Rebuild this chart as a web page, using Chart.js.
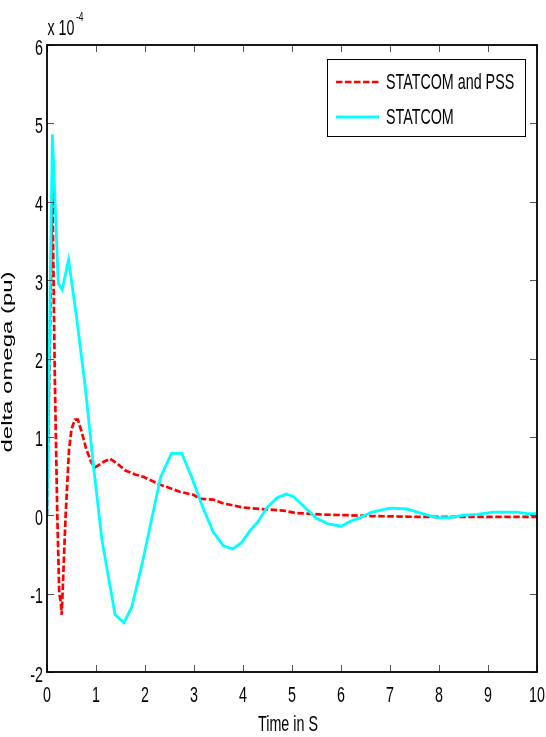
<!DOCTYPE html>
<html>
<head>
<meta charset="utf-8">
<script src="https://cdn.jsdelivr.net/npm/chart.js@4.4.1/dist/chart.umd.min.js"></script>
<style>
  html, body { margin: 0; padding: 0; background: #fff; }
  canvas { display: block; }
</style>
</head>
<body>
<canvas id="c" width="546" height="737"></canvas>
<script>
// ---- data (values in units of 1e-4 pu) ----
const seriesNames = ['STATCOM and PSS', 'STATCOM'];

const pssTime = [0, 0.11, 0.16, 0.21, 0.25, 0.28, 0.30, 0.33, 0.38, 0.45, 0.50, 0.57, 0.63, 0.70, 0.80, 0.90, 0.98, 1.15, 1.29, 1.45, 1.60, 1.80, 1.97, 2.31, 2.71, 2.99, 3.12, 3.39, 3.60, 4.00, 4.35, 4.82, 5.06, 5.57, 6.18, 6.63, 7.50, 8.50, 10.0];
const pssVals = [0, 4.20, 1.73, 0.00, -1.00, -1.10, -1.27, -0.80, 0.00, 0.84, 1.10, 1.22, 1.22, 1.08, 0.85, 0.68, 0.61, 0.68, 0.72, 0.65, 0.57, 0.52, 0.49, 0.39, 0.30, 0.26, 0.21, 0.20, 0.15, 0.10, 0.08, 0.06, 0.03, 0.01, 0.00, -0.01, -0.02, -0.02, -0.02];

const statTime = [0, 0.11, 0.23, 0.31, 0.44, 0.60, 0.78, 0.95, 1.12, 1.39, 1.57, 1.73, 1.93, 2.32, 2.54, 2.75, 2.95, 3.18, 3.39, 3.60, 3.79, 3.97, 4.14, 4.31, 4.48, 4.69, 4.88, 5.03, 5.30, 5.50, 5.74, 6.01, 6.18, 6.39, 6.63, 7.00, 7.34, 7.61, 7.95, 8.22, 8.50, 8.77, 9.11, 9.59, 9.79, 10.0];
const statVals = [0, 4.86, 2.96, 2.88, 3.26, 2.54, 1.64, 0.62, -0.31, -1.27, -1.37, -1.17, -0.65, 0.49, 0.79, 0.79, 0.49, 0.10, -0.21, -0.39, -0.43, -0.35, -0.20, -0.08, 0.09, 0.22, 0.27, 0.24, 0.08, -0.04, -0.11, -0.14, -0.08, -0.03, 0.04, 0.09, 0.08, 0.03, -0.03, -0.03, 0.00, 0.01, 0.04, 0.04, 0.02, 0.02];

const xTickValues = [0, 1, 2, 3, 4, 5, 6, 7, 8, 9, 10];
const xTickLabels = ['0', '1', '2', '3', '4', '5', '6', '7', '8', '9', '10'];
const yTickValues = [-2, -1, 0, 1, 2, 3, 4, 5, 6];
const yTickLabels = ['-2', '-1', '0', '1', '2', '3', '4', '5', '6'];

const xTitle = 'Time in S';
const yTitle = 'delta omega (pu)';
const exponentBase = 'x 10';
const exponentPower = '-4';

const colPss = '#ff0000';
const colStat = '#00ffff';

const FONT = '"Liberation Sans", Arial, Helvetica, sans-serif';

function txt(ctx, s, x, y, size, sx, align) {
  ctx.save();
  ctx.translate(x, y);
  ctx.scale(sx, 1);
  ctx.font = size + 'px ' + FONT;
  ctx.textAlign = align;
  ctx.textBaseline = 'alphabetic';
  ctx.fillStyle = '#000';
  ctx.fillText(s, 0, 0);
  ctx.restore();
}

const decor = {
  id: 'matlabDecor',
  afterDraw(chart) {
    const ctx = chart.ctx, a = chart.chartArea;
    const xs = chart.scales.x, ys = chart.scales.y;
    ctx.save();
    // ticks (inside)
    ctx.strokeStyle = '#555';
    ctx.lineWidth = 1;
    ctx.beginPath();
    xTickValues.forEach(v => {
      const p = Math.round(xs.getPixelForValue(v)) + 0.5;
      ctx.moveTo(p, a.bottom); ctx.lineTo(p, a.bottom - 7);
      ctx.moveTo(p, a.top); ctx.lineTo(p, a.top + 7);
    });
    yTickValues.forEach(v => {
      const p = Math.round(ys.getPixelForValue(v)) + 0.5;
      ctx.moveTo(a.left, p); ctx.lineTo(a.left + 7, p);
      ctx.moveTo(a.right, p); ctx.lineTo(a.right - 7, p);
    });
    ctx.stroke();
    // box
    ctx.strokeStyle = '#000';
    ctx.lineWidth = 1.8;
    ctx.strokeRect(a.left, a.top, a.right - a.left, a.bottom - a.top);

    // tick labels
    xTickValues.forEach((v, i) => {
      txt(ctx, xTickLabels[i], xs.getPixelForValue(v), 701.5, 22, 0.65, 'center');
    });
    yTickValues.forEach((v, i) => {
      txt(ctx, yTickLabels[i], 43, ys.getPixelForValue(v) + 9.5, 22, 0.65, 'right');
    });
    // axis titles
    txt(ctx, xTitle, 288, 731, 22, 0.65, 'center');
    ctx.save();
    ctx.translate(12, 362);
    ctx.rotate(-Math.PI / 2);
    ctx.scale(1.71, 1);
    ctx.font = '14px ' + FONT;
    ctx.textAlign = 'center';
    ctx.textBaseline = 'alphabetic';
    ctx.fillStyle = '#000';
    ctx.fillText(yTitle, 0, 0);
    ctx.restore();
    // exponent
    txt(ctx, exponentBase, 47.5, 35, 22, 0.65, 'left');
    txt(ctx, exponentPower, 76, 20.5, 13, 0.65, 'left');

    // legend
    ctx.fillStyle = '#fff';
    ctx.fillRect(327, 59, 198, 77);
    ctx.strokeStyle = '#000';
    ctx.lineWidth = 1;
    ctx.strokeRect(327.5, 59.5, 198, 77);
    const ds = chart.data.datasets;
    const rows = [82, 117];
    ds.forEach((d, i) => {
      ctx.save();
      ctx.strokeStyle = d.borderColor;
      ctx.lineWidth = d.borderWidth;
      ctx.setLineDash(d.borderDash || []);
      ctx.beginPath();
      ctx.moveTo(336, rows[i]); ctx.lineTo(379, rows[i]);
      ctx.stroke();
      ctx.restore();
      txt(ctx, d.label, 386, rows[i] + 6.5, 22, 0.65, 'left');
    });
    ctx.restore();
  }
};

new Chart(document.getElementById('c'), {
  type: 'line',
  data: {
    datasets: [
      {
        label: seriesNames[0],
        data: pssTime.map((t, i) => ({ x: t, y: pssVals[i] })),
        borderColor: colPss,
        borderWidth: 2.7,
        borderDash: [6.5, 2.5],
        pointRadius: 0,
        tension: 0,
        fill: false,
        order: 1
      },
      {
        label: seriesNames[1],
        data: statTime.map((t, i) => ({ x: t, y: statVals[i] })),
        borderColor: colStat,
        borderWidth: 2.8,
        pointRadius: 0,
        tension: 0,
        fill: false,
        order: 0
      }
    ]
  },
  options: {
    responsive: false,
    animation: false,
    devicePixelRatio: 1,
    layout: { autoPadding: false, padding: { top: 45, right: 9, left: 0, bottom: 0 } },
    plugins: { legend: { display: false }, tooltip: { enabled: false } },
    scales: {
      x: {
        type: 'linear', min: 0, max: 10,
        ticks: { display: false, stepSize: 1 },
        grid: { display: false },
        border: { display: false },
        afterFit(s) { s.height = 65; }
      },
      y: {
        type: 'linear', min: -2, max: 6,
        ticks: { display: false, stepSize: 1 },
        grid: { display: false },
        border: { display: false },
        afterFit(s) { s.width = 47; }
      }
    }
  },
  plugins: [decor]
});
</script>
</body>
</html>
